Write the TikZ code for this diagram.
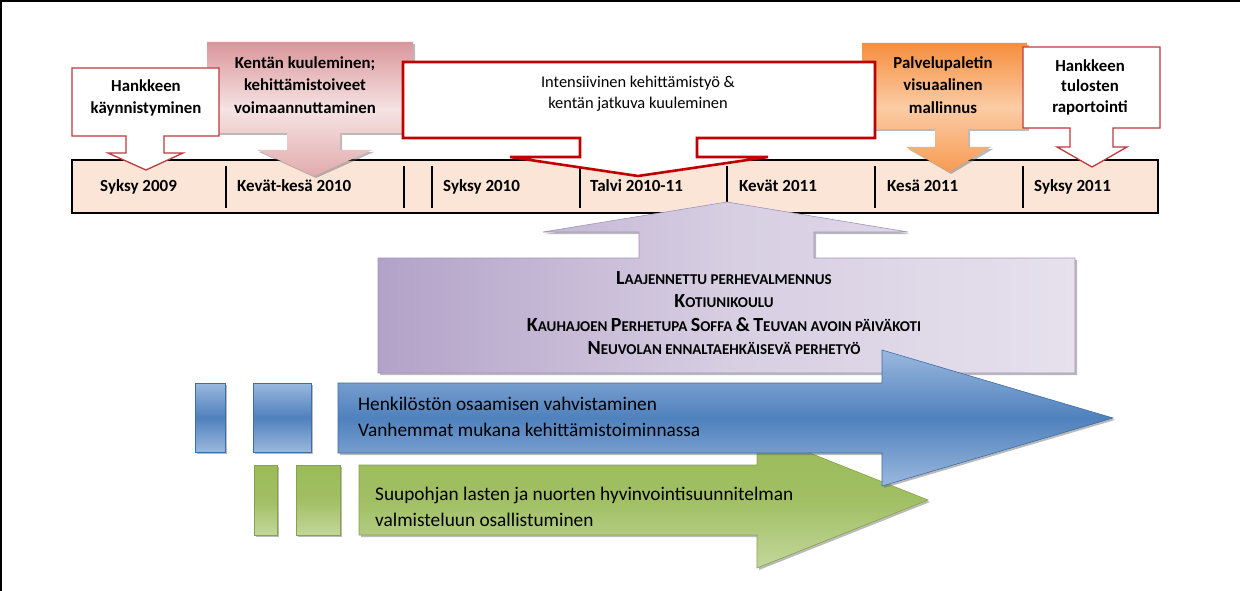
\documentclass[tikz,border=0pt]{standalone}
\usepackage{fontspec}
\setmainfont{Carlito}
\usetikzlibrary{shadows}

\definecolor{vaalea}{HTML}{FBE5D6}
\definecolor{puna}{HTML}{C00000}
\definecolor{punareuna}{HTML}{BE3A3E}
\definecolor{ruusu}{HTML}{D9969A}
\definecolor{ruusuvaalea}{HTML}{F6E3E3}
\definecolor{ruusuala}{HTML}{E2ABAD}
\definecolor{oranssi}{HTML}{F68E3E}
\definecolor{oranssivaalea}{HTML}{FBCCA5}
\definecolor{violetti}{HTML}{B3A2C8}
\definecolor{violettivaalea}{HTML}{E6E1ED}
\definecolor{violettireuna}{HTML}{A493BE}
\definecolor{sininen}{HTML}{4F81BD}
\definecolor{sininenvaalea}{HTML}{9AB8DE}
\definecolor{sininenreuna}{HTML}{3D6CA6}
\definecolor{vihrea}{HTML}{9BBB59}
\definecolor{vihreavaalea}{HTML}{C3D79C}
\definecolor{vihreareuna}{HTML}{86A447}

\newcommand{\iso}[1]{{\fontsize{20}{23}\selectfont #1}}

\tikzset{
  varjo/.style={drop shadow={shadow xshift=2pt, shadow yshift=-2pt, opacity=.45, fill=black!60}},
  otsikko/.style={font=\bfseries\fontsize{16.8}{22.5}\selectfont, align=center},
  kausi/.style={font=\bfseries\fontsize{17}{19}\selectfont, anchor=base west, inner sep=0pt},
  nuoliteksti/.style={font=\fontsize{19.3}{26}\selectfont, anchor=west, align=left, inner sep=0pt},
  sininenpalkki/.style={varjo, draw=sininenreuna, line width=.6pt, top color=sininenvaalea, bottom color=sininenvaalea, middle color=sininen},
  vihreapalkki/.style={varjo, draw=vihreareuna, line width=.6pt, top color=vihrea, bottom color=vihreavaalea, middle color=vihrea!85!vihreavaalea}
}

\begin{document}
\begin{tikzpicture}[x=1pt,y=-1pt]
	\useasboundingbox (0,0) rectangle (1240,591);
	\fill[white] (0,0) rectangle (1240,591);
	\draw[black, line width=2pt] (1,591) -- (1,1) -- (1240,1);
	
	% aikajana
	\draw[black, line width=1.2pt, fill=vaalea] (72,160) rectangle (1158,213);
	\foreach \x in {226,404,432,580,727,875,1023}
		\draw[black, line width=2.6pt] (\x,166) -- (\x,208);
	\foreach \x/\txt [count=\i] in {100/Syksy 2009, 237/Kev\"at-kes\"a 2010, 443/Syksy 2010, 590/Talvi 2010-11, 739/Kev\"at 2011, 887/Kes\"a 2011, 1034/Syksy 2011}
		\node[kausi] (kausi\i) at (\x,192) {\txt};
	
	% puhekuplat aikajanan yla puolella
	\draw[varjo, draw=none, top color=ruusu, bottom color=ruusuala, middle color=ruusuvaalea]
		(207,42) -- (413,42) -- (413,133) -- (340,133) -- (340,150) -- (372,150) -- (314,176) -- (257,150) -- (287,150) -- (287,133) -- (207,133) -- cycle;
	\draw[varjo, draw=none, top color=oranssi, bottom color=oranssi!80!oranssivaalea, middle color=oranssivaalea]
		(862,43) -- (1027,43) -- (1027,129) -- (968,129) -- (968,147) -- (991,147) -- (949,172) -- (906,147) -- (935,147) -- (935,129) -- (862,129) -- cycle;
	\draw[puna, line width=2.6pt, fill=white]
		(403,62) -- (875,62) -- (875,138) -- (697,138) -- (697,157) -- (768,157) -- (638,176) -- (510,157) -- (580,157) -- (580,138) -- (403,138) -- cycle;
	\draw[punareuna, line width=1.3pt, fill=white]
		(1023,47) -- (1160,47) -- (1160,128) -- (1113,128) -- (1113,147) -- (1127,147) -- (1092,167) -- (1057,147) -- (1070,147) -- (1070,128) -- (1023,128) -- cycle;
	\draw[punareuna, line width=1.3pt, fill=white]
		(72,68) -- (219,68) -- (219,136) -- (164,136) -- (164,153) -- (183,153) -- (146,170) -- (108,153) -- (126,153) -- (126,136) -- (72,136) -- cycle;
	
	\node[otsikko] (kaynnistys) at (146,98) {Hankkeen\\k\"aynnistyminen};
	\node[otsikko] (kuuleminen) at (305,85) {Kent\"an kuuleminen;\\kehitt\"amistoiveet\\voimaannuttaminen};
	\node[otsikko, font=\fontsize{16.4}{21}\selectfont] (intensiivinen) at (638,94) {Intensiivinen kehitt\"amisty\"o \&\\kent\"an jatkuva kuuleminen};
	\node[otsikko] (mallinnus) at (943,85) {Palvelupaletin\\visuaalinen\\mallinnus};
	\node[otsikko, font=\bfseries\fontsize{16.8}{20.5}\selectfont] (raportointi) at (1090,87) {Hankkeen\\tulosten\\raportointi};
	
	% toiminnot
	\draw[varjo, draw=violettireuna, line width=.6pt, left color=violetti, right color=violettivaalea, middle color=violettivaalea!70!violetti]
		(378,258) -- (639,258) -- (639,232) -- (543,232) -- (727,202) -- (908,232) -- (814,232) -- (814,258) -- (1075,258) -- (1075,373) -- (378,373) -- cycle;
	\node[font=\bfseries\fontsize{15}{23.3}\selectfont, align=center] (toiminnot) at (724,313)
		{\iso{L}AAJENNETTU PERHEVALMENNUS\\
		 \iso{K}OTIUNIKOULU\\
		 \iso{K}AUHAJOEN \iso{P}ERHETUPA \iso{S}OFFA \iso{\&} \iso{T}EUVAN AVOIN P\"AIV\"AKOTI\\
		 \iso{N}EUVOLAN ENNALTAEHK\"AISEV\"A PERHETY\"O};
	
	% vihrea nuoli
	\draw[vihreapalkki] (254,465) rectangle (277,535);
	\draw[vihreapalkki] (296,465) rectangle (340,535);
	\draw[vihreapalkki] (359,465) -- (757,465) -- (757,432) -- (928,500) -- (757,568) -- (757,535) -- (359,535) -- cycle;
	\node[nuoliteksti] (suupohja) at (375,507)
		{Suupohjan lasten ja nuorten hyvinvointisuunnitelman\\valmisteluun osallistuminen};
	
	% sininen nuoli
	\draw[sininenpalkki] (195,383) rectangle (225,452);
	\draw[sininenpalkki] (253,383) rectangle (311,452);
	\draw[sininenpalkki] (338,383) -- (882,383) -- (882,350) -- (1113,418) -- (882,486) -- (882,453) -- (338,453) -- cycle;
	\node[nuoliteksti] (henkilosto) at (358,417)
		{Henkil\"ost\"on osaamisen vahvistaminen\\Vanhemmat mukana kehitt\"amistoiminnassa};
\end{tikzpicture}
\end{document}
